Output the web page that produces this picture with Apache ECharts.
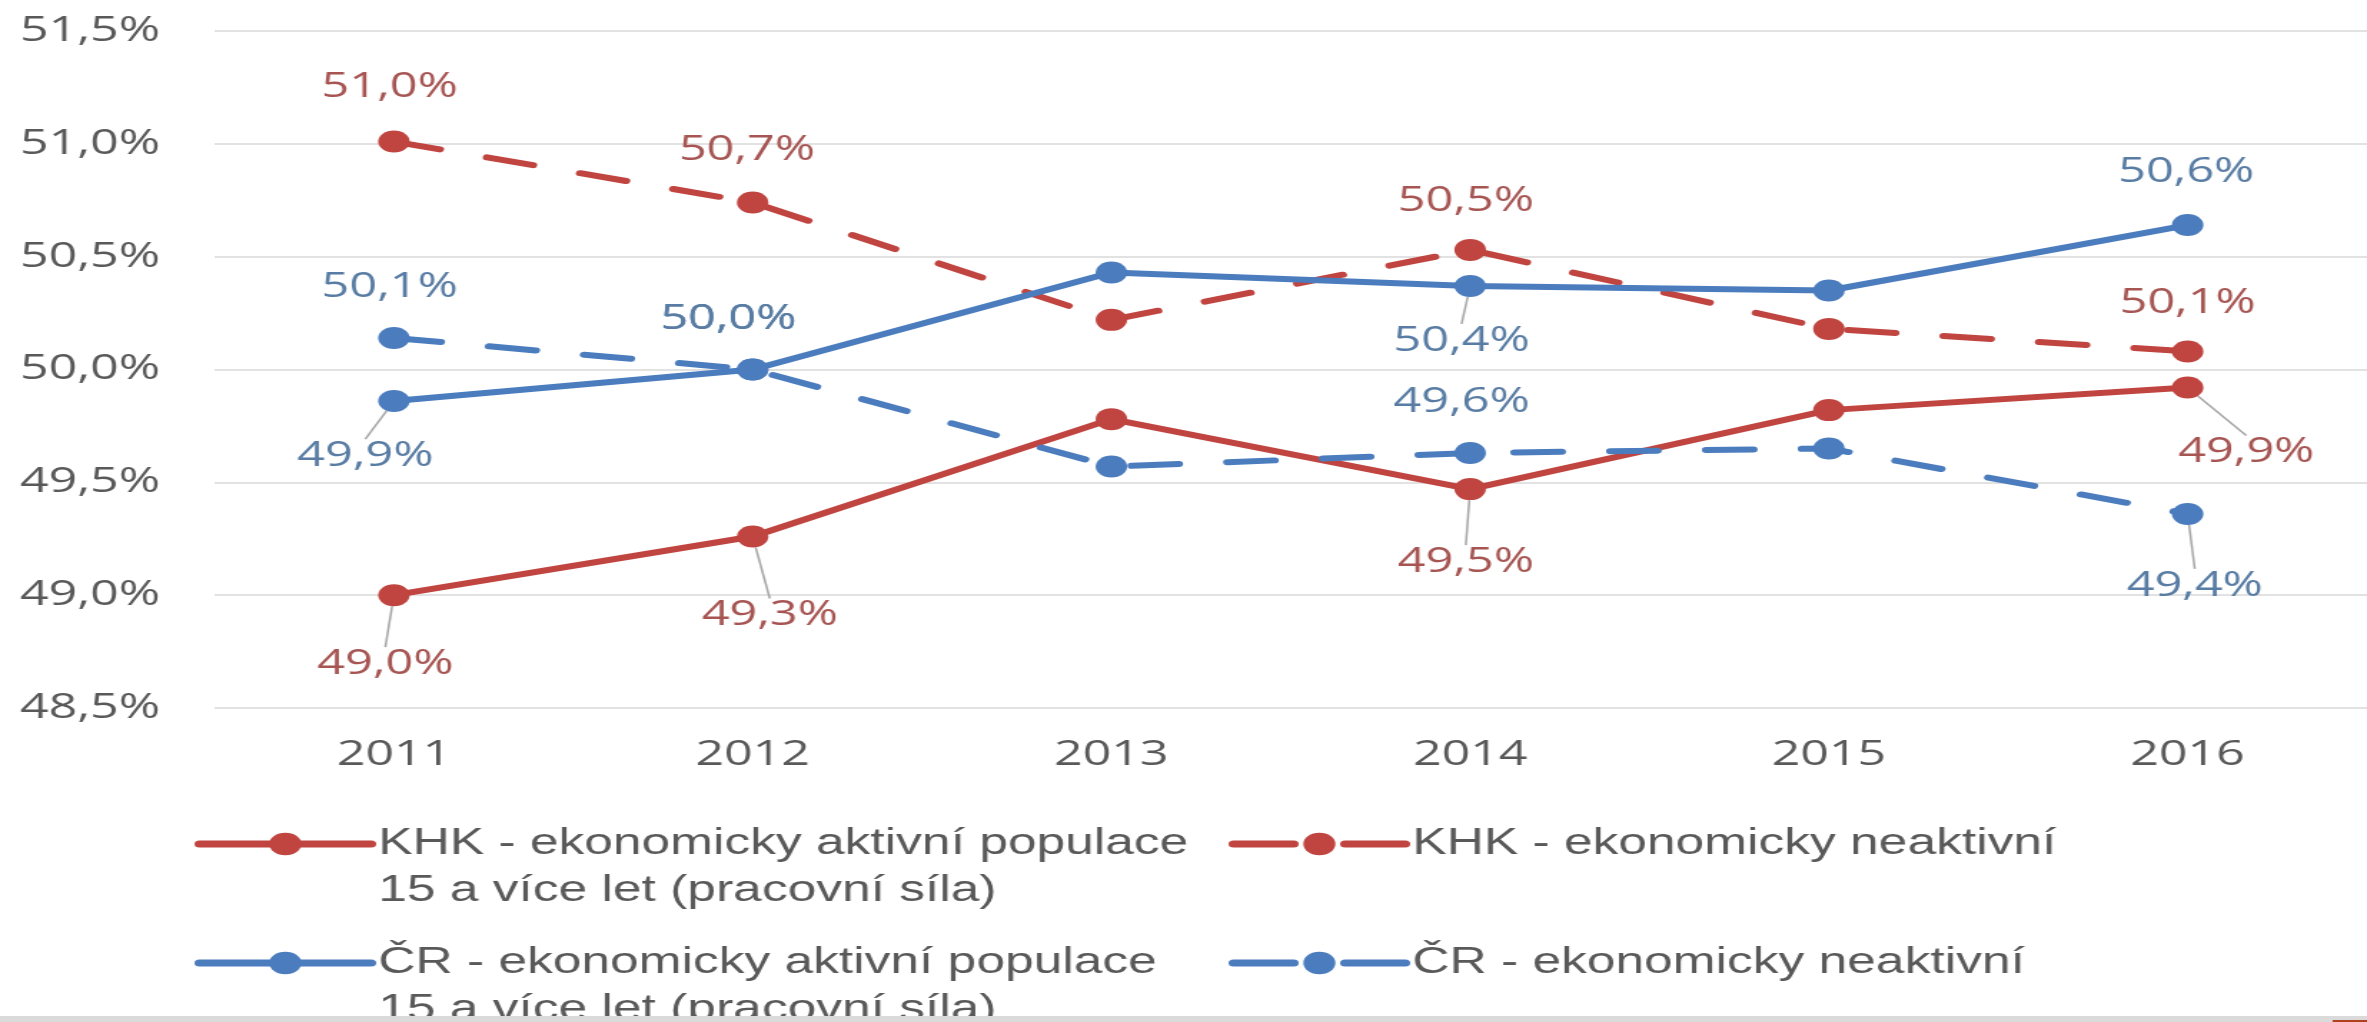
<!DOCTYPE html>
<html><head><meta charset="utf-8">
<script src="https://cdn.jsdelivr.net/npm/echarts@6/dist/echarts.min.js"></script>
<style>
html,body{margin:0;padding:0;background:#fff;overflow:hidden;}
#wrap{width:2367px;height:1022px;overflow:hidden;position:relative;background:#fff;}
#chart{width:1655px;height:1022px;transform:scaleX(1.43021);transform-origin:0 0;}
</style></head><body><div id="wrap"><div id="chart"></div></div>
<script>
// ---- data ----
const years = ['2011', '2012', '2013', '2014', '2015', '2016'];
const khkActive   = [49.00, 49.26, 49.78, 49.47, 49.82, 49.92];
const khkInactive = [51.01, 50.74, 50.22, 50.53, 50.18, 50.08];
const crActive    = [49.86, 50.00, 50.43, 50.37, 50.35, 50.64];
const crInactive  = [50.14, 50.00, 49.57, 49.63, 49.65, 49.36];
const seriesNames = [
  'KHK - ekonomicky aktivní populace\n15 a více let (pracovní síla)',
  'KHK - ekonomicky neaktivní',
  'ČR - ekonomicky aktivní populace\n15 a více let (pracovní síla)',
  'ČR - ekonomicky neaktivní'
];

// ---- styling / label placement (not data) ----
const RED = '#C0443F', BLUE = '#4A7CBE';
const RED_LBL = '#A65552', BLUE_LBL = '#587CA3';
const labelled = [0, 1, 3, 5];
const labelOffsets = [
  {0: [-6, 69], 1: [12, 79], 3: [-3, 73], 5: [41, 65]},
  {0: [-3, -54], 1: [-4, -52], 3: [-3, -49], 5: [0, -48]},
  {0: [-20, 55], 1: [-17, -50], 3: [-6, 55], 5: [-1, -53]},
  {0: [-3, -51], 1: [-17, -50], 3: [-6, -51], 5: [5, 72]}
];
const leaders = [[0, 1, 3, 5], [], [0, 3], [5]];
const fmt = v => v.toFixed(1).replace('.', ',') + '%';

function makeSeries(idx, values, color, lblColor, dashed) {
  return {
    name: seriesNames[idx],
    type: 'line',
    data: values.map((v, i) => ({
      value: v,
      label: {show: labelled.indexOf(i) >= 0},
      labelLine: {show: leaders[idx].indexOf(i) >= 0}
    })),
    symbol: 'circle',
    symbolSize: 22,
    showAllSymbol: true,
    itemStyle: {color: color},
    lineStyle: {color: color, width: 6, type: dashed ? [33, 34] : 'solid', cap: 'round', join: 'round'},
    label: {
      position: 'inside',
      color: lblColor,
      fontFamily: 'Open Sans',
      fontSize: 34,
      formatter: p => fmt(p.value)
    },
    labelLine: {show: true, lineStyle: {color: '#A6A6A6', width: 1.5}},
    labelLayout: p => {
      const o = labelOffsets[idx][p.dataIndex] || [0, 0];
      return {dx: o[0], dy: o[1]};
    },
    emphasis: {disabled: true},
    z: 2 + idx
  };
}

const legendBase = {
  orient: 'horizontal', padding: 0, itemGap: 0, itemWidth: 120, itemHeight: 28,
  selectedMode: false,
  textStyle: {fontFamily: 'Liberation Sans', fontSize: 36, color: '#595959', lineHeight: 47},
  // put a blank line on top of two-line names so the first line sits level with the icon
  formatter: name => name.indexOf('\n') >= 0 ? '\u00a0\n' + name : name
};
function legendAt(name, left, iconCenterY, twoLine, dashed) {
  return Object.assign({}, legendBase, {
    data: [name], left: left,
    top: twoLine ? iconCenterY - 70.5 : iconCenterY - 23.5,
    lineStyle: {width: 7, type: dashed ? [42, 36] : 'solid', cap: 'round'}
  });
}

const chart = echarts.init(document.getElementById('chart'), null, {renderer: 'canvas'});
chart.setOption({
  animation: false,
  backgroundColor: '#fff',
  grid: {left: 150, top: 31, width: 1507, height: 677, containLabel: false},
  xAxis: {
    type: 'category', data: years, boundaryGap: true,
    axisLine: {show: false}, axisTick: {show: false},
    axisLabel: {color: '#595959', fontFamily: 'Open Sans', fontSize: 35, margin: 30}
  },
  yAxis: {
    type: 'value', min: 48.5, max: 51.5, interval: 0.5,
    axisLine: {show: false}, axisTick: {show: false},
    axisLabel: {color: '#595959', fontFamily: 'Open Sans', fontSize: 35, margin: 38, formatter: v => fmt(v)},
    splitLine: {lineStyle: {color: '#D9D9D9', width: 1.5}}
  },
  legend: [
    legendAt(seriesNames[0], 136, 844, true, false),
    legendAt(seriesNames[1], 859, 844, false, true),
    legendAt(seriesNames[2], 136, 963, true, false),
    legendAt(seriesNames[3], 859, 963, false, true)
  ],
  series: [
    makeSeries(0, khkActive, RED, RED_LBL, false),
    makeSeries(1, khkInactive, RED, RED_LBL, true),
    makeSeries(2, crActive, BLUE, BLUE_LBL, false),
    makeSeries(3, crInactive, BLUE, BLUE_LBL, true)
  ],
  graphic: [
    {type: 'rect', left: 0, top: 1016, z: 100, shape: {width: 1655, height: 6}, style: {fill: '#DADADA'}},
    {type: 'rect', left: 1631, top: 1020, z: 101, shape: {width: 24, height: 2}, style: {fill: '#B0401E'}}
  ]
});
</script></body></html>
